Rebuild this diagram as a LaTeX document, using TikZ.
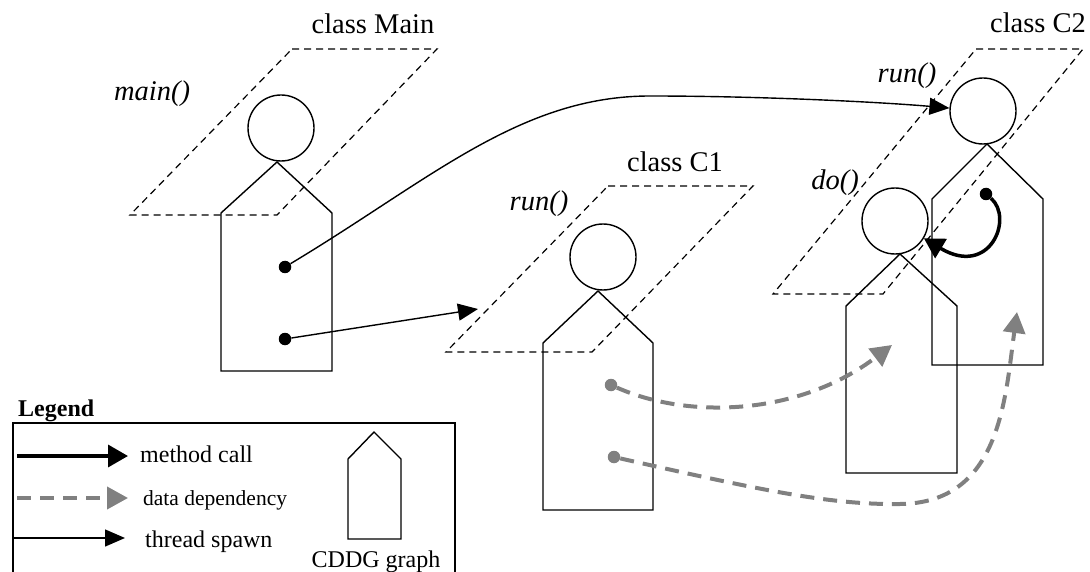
\documentclass[tikz,border=0pt]{standalone}
\usepackage{fontspec}
\setmainfont{Liberation Serif}
\usetikzlibrary{arrows.meta}
\definecolor{depgray}{RGB}{128,128,128}

% CDDG outline: left x, right x, shoulder y, bottom y, apex
\newcommand{\cddg}[5]{%
  \draw[graph] (#1,#4) -- (#1,#3) -- #5 -- (#2,#3) -- (#2,#4) -- cycle;}

\begin{document}
\begin{tikzpicture}[x=1pt, y=-1pt,
  graph/.style={line width=1.4pt},
  plane/.style={line width=1.2pt, dash pattern=on 7pt off 5pt},
  method/.style={circle, draw, line width=1.4pt, minimum size=66pt, inner sep=0pt},
  dot/.style={circle, fill, minimum size=12.5pt, inner sep=0pt},
  gdot/.style={dot, fill=depgray},
  cls/.style={font=\fontsize{28.5}{34}\selectfont, inner sep=0pt},
  mname/.style={font=\fontsize{28.5}{34}\selectfont\itshape, inner sep=0pt},
  lgd/.style={font=\fontsize{24}{28}\selectfont, inner sep=0pt, anchor=west},
  call/.style={line width=3.5pt, -{Triangle[length=20pt,width=22pt]}},
  dep/.style={depgray, line width=4pt, dash pattern=on 14pt off 9pt,
    -{Triangle[length=21pt,width=22pt]}},
  spawn/.style={line width=1.4pt, -{Triangle[length=20pt,width=17pt]}},
]
\useasboundingbox (0,0) rectangle (1090,572);

% method planes
\draw[plane] (292,49) -- (437,49) -- (277,215) -- (130,215) -- cycle;
\draw[plane] (608,186) -- (753,186) -- (592,352) -- (446,352) -- cycle;
\draw[plane] (976,49) -- (1083,49) -- (883,294) -- (773,294) -- cycle;

\node[cls] (clsmain) at (373,24) {class Main};
\node[cls] (clsc1) at (675,162) {class C1};
\node[cls] (clsc2) at (1038,23) {class C2};
\node[mname] (lmain) at (152,94) {main()};
\node[mname] (lrun1) at (539,204) {run()};
\node[mname] (lrun2) at (907,76) {run()};
\node[mname] (ldo) at (835,183) {do()};

% method entries
\node[method] (mainrun) at (281,128) {};
\node[method] (c1run) at (603,257) {};
\node[method] (c2run) at (983,111) {};
\node[method] (c2do) at (895,221) {};

% graphs below each entry
\cddg{221}{332}{213}{371}{(277,162)}
\cddg{543}{653}{343}{510}{(598,291)}
\cddg{932}{1043}{199}{365}{(987,144)}
\cddg{846}{957}{306}{473}{(900,254)}

\node[dot] (mainA) at (285,267) {};
\node[dot] (mainB) at (285,339) {};
\node[gdot] (c1A) at (611,385) {};
\node[gdot] (c1B) at (614,457) {};
\node[dot] (c2A) at (986,194) {};
\coordinate (c1in) at (478,309);
\coordinate (doin) at (892,345);
\coordinate (c2in) at (1017,312);

\draw[spawn] (mainA) .. controls (430,180) and (520,96) .. (650,96)
  .. controls (760,96) and (880,102) .. (c2run);
\draw[spawn] (mainB) -- (c1in);
\draw[call] (c2A) .. controls (1014,218) and (990,278) .. (c2do);
\draw[dep] (c1A) .. controls (690,420) and (800,415) .. (doin);
\draw[dep] (c1B) .. controls (760,490) and (830,505) .. (900,504)
  .. controls (1000,503) and (1005,400) .. (c2in);

% legend
\node[lgd, font=\fontsize{24}{28}\selectfont\bfseries] (legend) at (18,411) {Legend};
\draw[graph] (13,572) -- (13,423) -- (455,423) -- (455,572);
\coordinate (lcA) at (17,456);  \coordinate (lcB) at (128,456);
\coordinate (ldA) at (17,498);  \coordinate (ldB) at (128,498);
\coordinate (lsA) at (13,538);  \coordinate (lsB) at (125,538);
\draw[call] (lcA) -- (lcB);
\draw[dep] (ldA) -- (ldB);
\draw[spawn] (lsA) -- (lsB);
\node[lgd] (lcall) at (140,454) {method call};
\node[lgd, font=\fontsize{21.5}{26}\selectfont] (ldep) at (143,500) {data dependency};
\node[lgd] (lspawn) at (145,542) {thread spawn};
\cddg{348}{401}{459}{539}{(374,432)}
\node[lgd, anchor=center] (lcddg) at (376,562) {CDDG graph};
\end{tikzpicture}
\end{document}
